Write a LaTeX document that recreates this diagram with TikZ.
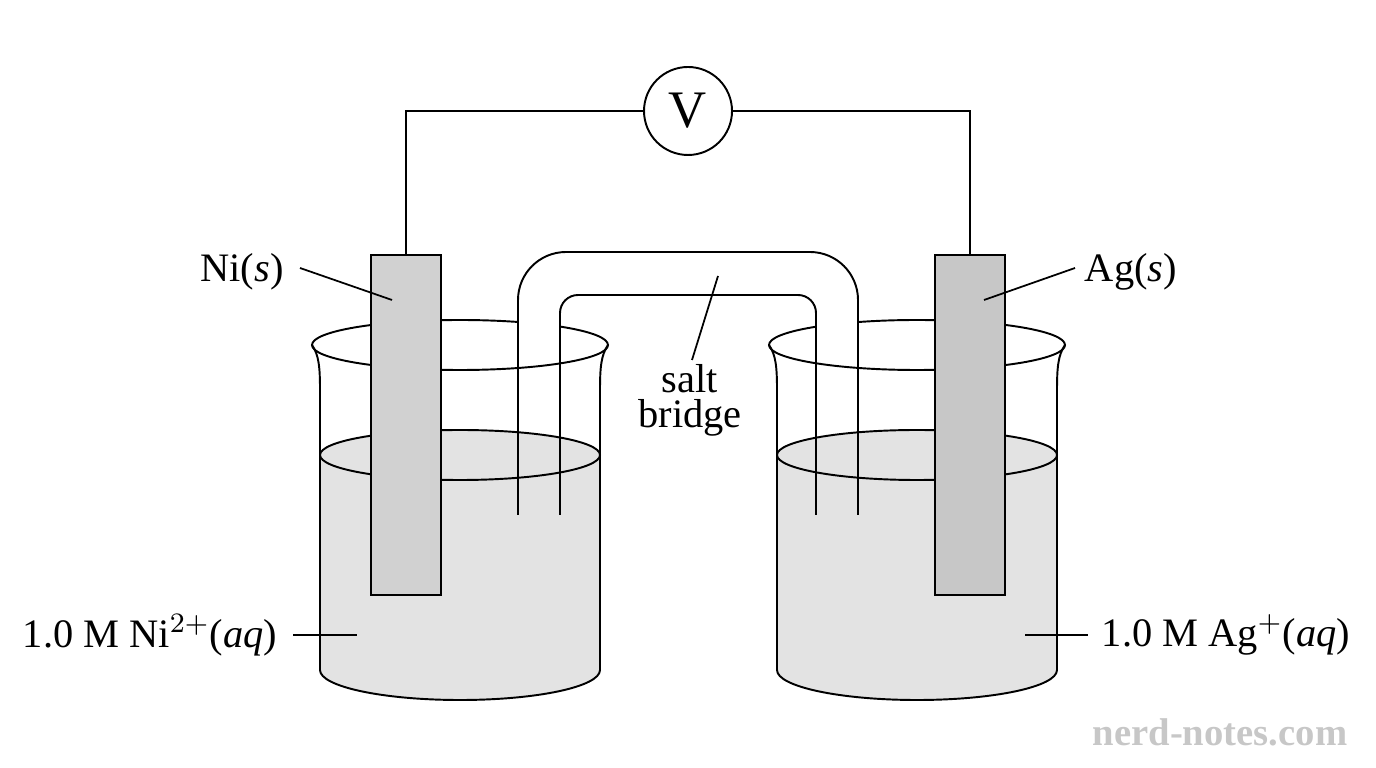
\documentclass[tikz,border=0pt]{standalone}
\usepackage{fontspec}
\setmainfont{Liberation Serif}
\begin{document}
\begin{tikzpicture}[x=0.1mm,y=-0.1mm,line width=0.55pt,
  every node/.style={font=\fontsize{11.5}{13}\selectfont},
  lbl/.style={line width=0.5pt}]
\useasboundingbox (0,0) rectangle (1376,768);

% beakers
\foreach \dx in {0,457} {
\begin{scope}[xshift=\dx*0.1mm]
\fill[black!11] (320,455) -- (320,670) arc[start angle=180,end angle=0,x radius=140,y radius=30] -- (600,455) arc[start angle=0,end angle=-180,x radius=140,y radius=25] -- cycle;
\draw (312,345) .. controls (319,355) and (320,368) .. (320,390) -- (320,670) arc[start angle=180,end angle=0,x radius=140,y radius=30] -- (600,390) .. controls (600,368) and (601,355) .. (608,345);
\draw (460,345) ellipse[x radius=148,y radius=25];
\draw (460,455) ellipse[x radius=140,y radius=25];
\end{scope}
}

% salt bridge
\begin{scope}
\clip (0,0) rectangle (1376,343);
\fill[white,rounded corners=4.8mm] (518,515) -- (518,252) -- (858,252) -- (858,515) -- (816,515) [rounded corners=1.8mm] -- (816,295) -- (560,295) -- (560,515) -- cycle;
\end{scope}
\draw[rounded corners=4.8mm] (518,515) -- (518,252) -- (858,252) -- (858,515);
\draw[rounded corners=1.8mm] (560,515) -- (560,295) -- (816,295) -- (816,515);

% electrodes
\draw[fill=black!18] (371,255) rectangle (441,595);
\draw[fill=black!22] (935,255) rectangle (1005,595);

% wires and voltmeter
\node[circle,draw,minimum size=88*0.1mm,inner sep=0pt,font=\fontsize{15}{17}\selectfont] (V) at (688,111) {V};
\draw (406,255) |- (V.west);
\draw (970,255) |- (V.east);

% labels
\node (ni) at (242,272) {Ni(\textit{s})};
\draw[lbl] (300,268) -- (392,300);
\node (ag) at (1131,272) {Ag(\textit{s})};
\draw[lbl] (984,300) -- (1075,268);
\node[align=center] (sb) at (690,400) {salt\\[-3pt]bridge};
\draw[lbl] (692,360) -- (718,276);
\node (nisol) at (150,635) {1.0 M Ni$^{2+}$(\textit{aq})};
\draw[lbl] (293,635) -- (357,635);
\node (agsol) at (1226,635) {1.0 M Ag$^{+}$(\textit{aq})};
\draw[lbl] (1025,635) -- (1088,635);
\node[text=black!22,font=\fontsize{11}{13}\selectfont\bfseries] (wm) at (1220,732) {nerd-notes.com};
\end{tikzpicture}
\end{document}
